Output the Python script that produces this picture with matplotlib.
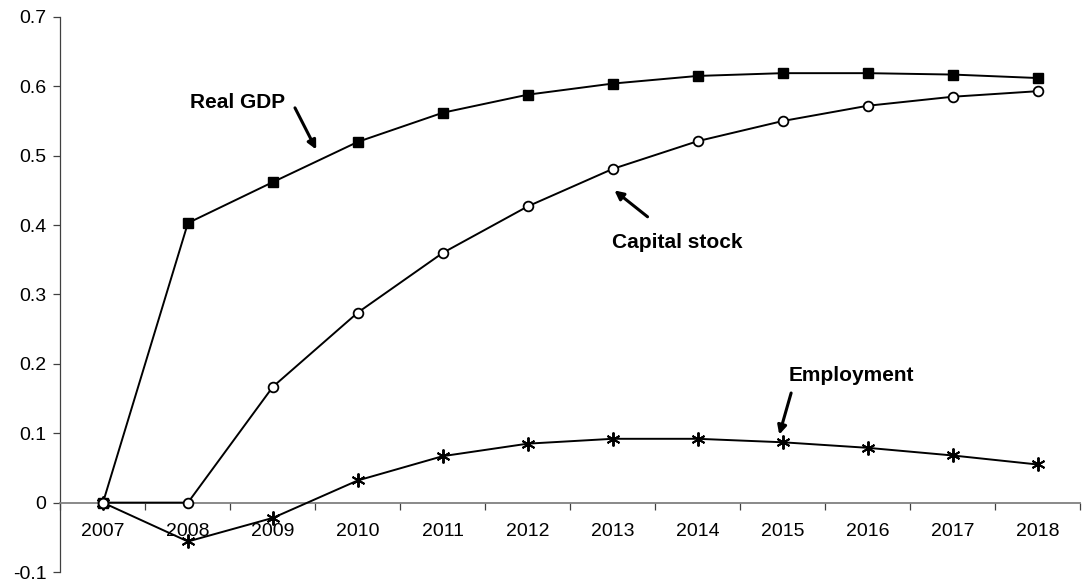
import numpy as np
import matplotlib
matplotlib.use('Agg')
import matplotlib.pyplot as plt

plt.rcParams['font.family'] = ['Liberation Sans', 'DejaVu Sans']

years = ['2007', '2008', '2009', '2010', '2011', '2012', '2013', '2014', '2015', '2016', '2017', '2018']
real_gdp = [0.0, 0.403, 0.462, 0.520, 0.562, 0.588, 0.604, 0.615, 0.619, 0.619, 0.617, 0.612]
capital_stock = [0.0, 0.0, 0.167, 0.274, 0.360, 0.427, 0.481, 0.521, 0.550, 0.572, 0.585, 0.593]
employment = [0.0, -0.056, -0.022, 0.032, 0.067, 0.085, 0.092, 0.092, 0.087, 0.079, 0.068, 0.055]

fig = plt.figure(figsize=(10.84, 5.85), dpi=100)
ax = fig.add_axes([0.0558, 0.0222, 0.9405, 0.9488])
x = np.arange(len(years))

ax.plot(x, real_gdp, color='black', lw=1.4, marker='s', ms=7, mfc='black', mec='black', zorder=3)
ax.plot(x, employment, color='black', lw=1.4, marker=(6, 2, 0), ms=10, mew=1.4, mec='black', zorder=3)
ax.plot(x, capital_stock, color='black', lw=1.4, marker='o', ms=7, mfc='white', mec='black', mew=1.3, zorder=4)

ax.set_xlim(-0.5, len(years) - 0.5)
ax.set_ylim(-0.1, 0.7)
ax.set_yticks(np.arange(-0.1, 0.71, 0.1))
ax.set_yticklabels(['-0.1', '0', '0.1', '0.2', '0.3', '0.4', '0.5', '0.6', '0.7'])

for s in ['top', 'right']:
    ax.spines[s].set_visible(False)
ax.spines['bottom'].set_position(('data', 0))
ax.spines['bottom'].set_color('#808080')
ax.spines['bottom'].set_linewidth(1.3)
ax.spines['left'].set_color('#404040')
ax.spines['left'].set_linewidth(0.9)

# boundary tick marks, labels centred on categories
ax.set_xticks(np.arange(-0.5, len(years) - 0.4, 1.0))
ax.set_xticklabels([])
ax.set_xticks(x, minor=True)
ax.set_xticklabels(years, minor=True)
ax.tick_params(axis='x', which='major', direction='out', length=5, width=0.9, color='#404040')
ax.tick_params(axis='x', which='minor', length=0, pad=15, labelsize=14)
ax.tick_params(axis='y', direction='out', length=5, width=0.9, color='#404040', labelsize=14, pad=5)

arw = dict(arrowstyle='-|>', color='black', lw=2.2, mutation_scale=13, shrinkA=0, shrinkB=0)
ax.annotate('', xy=(2.51, 0.509), xytext=(2.26, 0.569), arrowprops=arw)
ax.text(1.59, 0.576, 'Real GDP', ha='center', va='center', fontsize=15, fontweight='bold')
ax.annotate('', xy=(6.02, 0.450), xytext=(6.41, 0.412), arrowprops=arw)
ax.text(6.76, 0.375, 'Capital stock', ha='center', va='center', fontsize=15, fontweight='bold')
ax.annotate('', xy=(7.96, 0.098), xytext=(8.1, 0.158), arrowprops=arw)
ax.text(8.81, 0.183, 'Employment', ha='center', va='center', fontsize=15, fontweight='bold')

fig.savefig('out.png', dpi=100)
